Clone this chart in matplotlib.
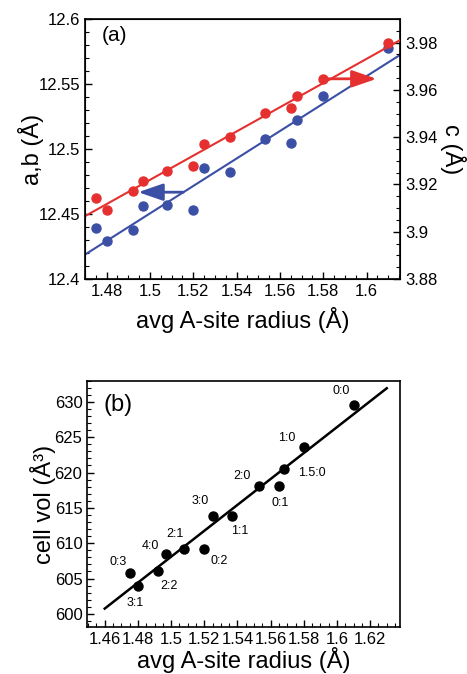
import matplotlib
matplotlib.use("Agg")
import matplotlib.pyplot as plt
from matplotlib.ticker import MultipleLocator
import numpy as np

plt.rcParams['font.family'] = ['Liberation Sans', 'DejaVu Sans']

# ---- data ----
radius = [1.475, 1.480, 1.492, 1.497, 1.508, 1.520, 1.525, 1.537, 1.553, 1.565, 1.568, 1.580, 1.610]
c_vals = [3.9143, 3.9091, 3.9171, 3.9215, 3.9256, 3.9280, 3.9373, 3.9400, 3.9503, 3.9525, 3.9574, 3.9647, 3.9800]
ab_vals = [12.4393, 12.4290, 12.4380, 12.4560, 12.4568, 12.4530, 12.4856, 12.4823, 12.5080, 12.5049, 12.5221, 12.5404, 12.5776]
vol_vals = [605.75, 603.96, 606.13, 608.49, 609.20, 609.20, 613.87, 613.87, 618.07, 618.07, 620.57, 623.58, 629.58]
ratio_labels = ['0:3', '3:1', '2:2', '4:0', '2:1', '0:2', '3:0', '1:1', '2:0', '0:1', '1.5:0', '1:0', '0:0']

c_fit = [0.512, 3.15396]      # slope, intercept
ab_fit = [1.056, 10.86648]
vol_fit = [183.4, 332.986]
vol_fit_range = [1.46, 1.63]

a_xticks = [1.48, 1.50, 1.52, 1.54, 1.56, 1.58, 1.60]
a_xticklabels = ['1.48', '1.5', '1.52', '1.54', '1.56', '1.58', '1.6']
ab_yticks = [12.4, 12.45, 12.5, 12.55, 12.6]
ab_yticklabels = ['12.4', '12.45', '12.5', '12.55', '12.6']
c_yticks = [3.88, 3.90, 3.92, 3.94, 3.96, 3.98]
c_yticklabels = ['3.88', '3.9', '3.92', '3.94', '3.96', '3.98']
b_xticks = [1.46, 1.48, 1.50, 1.52, 1.54, 1.56, 1.58, 1.60, 1.62]
b_xticklabels = ['1.46', '1.48', '1.5', '1.52', '1.54', '1.56', '1.58', '1.6', '1.62']
b_yticks = [600, 605, 610, 615, 620, 625, 630]

# label offsets (points) for panel b annotations
label_offsets = [(-8, 8), (-2, -12), (8, -11), (-11, 6), (-7, 11), (11, -9), (-9, 11),
                 (5, -11), (-12, 7), (1, -12), (20, -3), (-12, 7), (-9, 10)]

RED = '#e5302f'
BLUE = '#3b4fa5'
TICK_FS = 12
LABEL_FS = 17

fig = plt.figure(figsize=(4.67, 6.74), dpi=100)

# ---------- panel (a) ----------
ax = fig.add_axes([0.182, 0.586, 0.6745, 0.3858])
ax2 = ax.twinx()
xl = (1.47, 1.6154)
ax.set_xlim(*xl)
ax.set_ylim(12.4, 12.6)
ax2.set_ylim(3.88, 3.99)

xx = np.array(xl)
ax.plot(xx, ab_fit[0] * xx + ab_fit[1], color=BLUE, lw=1.5, zorder=2)
ax.plot(radius, ab_vals, 'o', color=BLUE, ms=6.5, zorder=3)
ax2.plot(xx, c_fit[0] * xx + c_fit[1], color=RED, lw=1.5, zorder=2)
ax2.plot(radius, c_vals, 'o', color=RED, ms=6.5, zorder=3)

# arrows
astyle = '-|>,head_length=0.75,head_width=0.26'
ax2.annotate('', xy=(1.6046, 3.9647), xytext=(1.5823, 3.9647),
             arrowprops=dict(arrowstyle=astyle, mutation_scale=20, lw=2,
                             color=RED, shrinkA=0, shrinkB=0))
ax.annotate('', xy=(1.4946, 12.4668), xytext=(1.5154, 12.4668),
            arrowprops=dict(arrowstyle=astyle, mutation_scale=20, lw=2,
                            color=BLUE, shrinkA=0, shrinkB=0))

ax.set_xticks(a_xticks)
ax.set_xticklabels(a_xticklabels)
ax.set_yticks(ab_yticks)
ax.set_yticklabels(ab_yticklabels)
ax2.set_yticks(c_yticks)
ax2.set_yticklabels(c_yticklabels)
ax.xaxis.set_minor_locator(MultipleLocator(0.005))
ax.yaxis.set_minor_locator(MultipleLocator(0.01))
ax2.yaxis.set_minor_locator(MultipleLocator(0.005))
ax.tick_params(axis='both', which='both', direction='in', labelsize=TICK_FS, top=False, right=False)
ax.tick_params(which='major', length=5, width=1)
ax.tick_params(which='minor', length=3, width=0.8)
ax2.tick_params(axis='y', which='both', direction='in', labelsize=TICK_FS)
ax2.tick_params(which='major', length=5, width=1)
ax2.tick_params(which='minor', length=3, width=0.8)
for s in ax.spines.values():
    s.set_linewidth(1.2)
ax.set_xlabel('avg A-site radius (Å)', fontsize=LABEL_FS, va='center')
ax.xaxis.set_label_coords(0.5, -0.158)
ax.set_ylabel('a,b (Å)', fontsize=LABEL_FS, va='center', ha='center')
ax.yaxis.set_label_coords(-0.172, 0.5)
ax2.set_ylabel('c (Å)', fontsize=LABEL_FS, rotation=270, va='center', ha='center')
ax2.yaxis.set_label_coords(1.168, 0.5)
ax.text(0.053, 0.935, '(a)', transform=ax.transAxes, fontsize=15, ha='left', va='center')

# ---------- panel (b) ----------
bx = fig.add_axes([0.187, 0.0693, 0.6696, 0.3659])
bx.set_xlim(1.4495, 1.638)
bx.set_ylim(598.1, 633.0)
fx = np.array(vol_fit_range)
bx.plot(fx, vol_fit[0] * fx + vol_fit[1], color='black', lw=1.8, zorder=2)
bx.plot(radius, vol_vals, 'o', color='black', ms=6.5, zorder=3)
for xv, yv, lab, off in zip(radius, vol_vals, ratio_labels, label_offsets):
    bx.annotate(lab, (xv, yv), xytext=off, textcoords='offset points',
                fontsize=9, ha='center', va='center')
bx.set_xticks(b_xticks)
bx.set_xticklabels(b_xticklabels)
bx.set_yticks(b_yticks)
bx.xaxis.set_minor_locator(MultipleLocator(0.005))
bx.yaxis.set_minor_locator(MultipleLocator(1))
bx.tick_params(axis='both', which='both', direction='in', labelsize=TICK_FS, top=False, right=False)
bx.tick_params(which='major', length=5, width=1)
bx.tick_params(which='minor', length=3, width=0.8)
for s in bx.spines.values():
    s.set_linewidth(1.2)
bx.set_xlabel('avg A-site radius (Å)', fontsize=LABEL_FS, va='center')
bx.xaxis.set_label_coords(0.5, -0.133)
bx.set_ylabel('cell vol (Å³)', fontsize=LABEL_FS, va='center', ha='center')
bx.yaxis.set_label_coords(-0.142, 0.5)
bx.text(0.053, 0.90, '(b)', transform=bx.transAxes, fontsize=17, ha='left', va='center')

fig.savefig('out.png', dpi=100)
